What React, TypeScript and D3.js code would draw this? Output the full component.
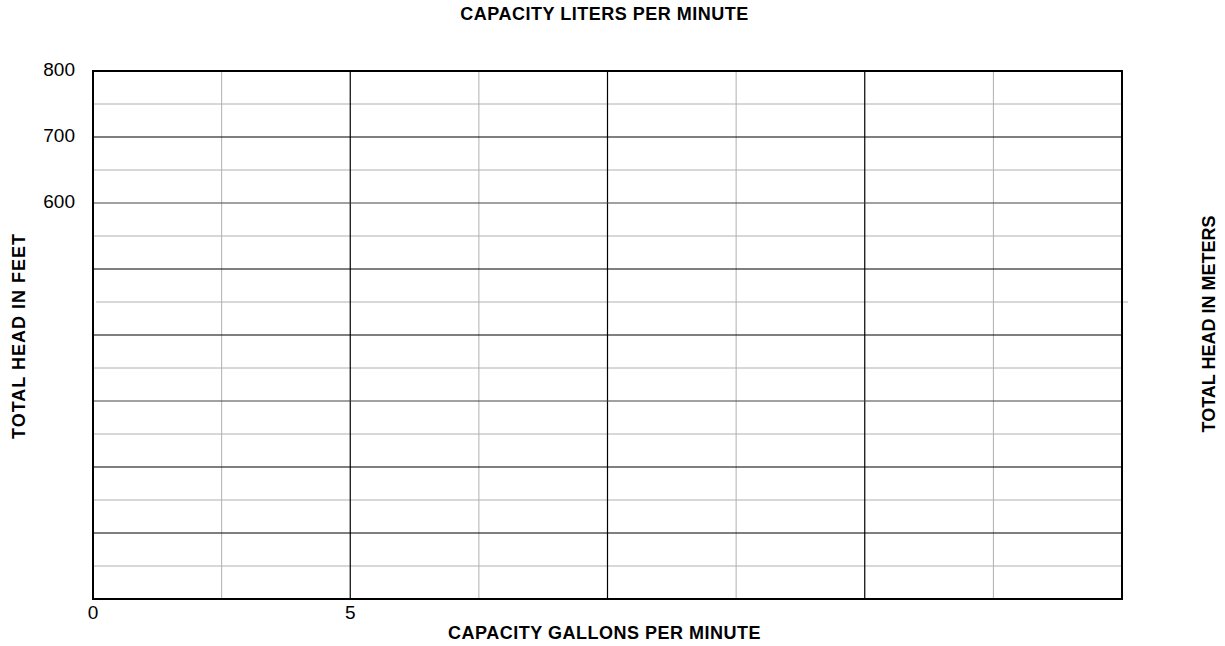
import React, { useEffect, useRef } from 'react';
import * as d3 from 'd3';

const width = 1225,
      height = 646;

// axis domains and grid steps
const xDomain = [0, 20];
const yDomain = [0, 800];
const xMajor = [0, 5, 10, 15, 20];
const xMinor = [2.5, 7.5, 12.5, 17.5];
const yMajor = [0, 100, 200, 300, 400, 500, 600, 700, 800];
const yMinor = [50, 150, 250, 350, 450, 550, 650, 750];

// only these tick labels are printed on the sheet
const xLabels = [0, 5];
const yLabels = [600, 700, 800];

const titleTop = 'CAPACITY LITERS PER MINUTE';
const titleBottom = 'CAPACITY GALLONS PER MINUTE';
const titleLeft = 'TOTAL HEAD IN FEET';
const titleRight = 'TOTAL HEAD IN METERS';

const margin = { top: 71, right: 103, bottom: 47, left: 93 };
const font = 'Liberation Sans, Arial, sans-serif';

const App = () => {
    const ref = useRef<SVGSVGElement>(null);

    useEffect(() => {
        const svg = d3.select(ref.current);
        svg.selectAll('*').remove();

        const x = d3.scaleLinear().domain(xDomain).range([margin.left, width - margin.right]);
        const y = d3.scaleLinear().domain(yDomain).range([height - margin.bottom, margin.top]);

        const g = svg.append('g');

        // minor grid
        g.selectAll('.vminor').data(xMinor).enter().append('line')
            .attr('x1', d => x(d)).attr('x2', d => x(d))
            .attr('y1', y(0)).attr('y2', y(800))
            .attr('stroke', '#b0b0b0').attr('stroke-width', 1);

        g.selectAll('.hminor').data(yMinor).enter().append('line')
            .attr('x1', d => d === 450 ? x(0) + 3 : x(0))
            .attr('x2', d => d === 450 ? x(20) + 6 : x(20))
            .attr('y1', d => y(d)).attr('y2', d => y(d))
            .attr('stroke', '#b0b0b0').attr('stroke-width', 1);

        // major grid
        g.selectAll('.vmajor').data(xMajor).enter().append('line')
            .attr('x1', d => x(d)).attr('x2', d => x(d))
            .attr('y1', y(0)).attr('y2', y(800))
            .attr('stroke', '#000').attr('stroke-width', 1.2);

        g.selectAll('.hmajor').data(yMajor).enter().append('line')
            .attr('x1', x(0)).attr('x2', x(20))
            .attr('y1', d => y(d)).attr('y2', d => y(d))
            .attr('stroke', d => d === 600 || d === 300 ? '#444' : '#000')
            .attr('stroke-width', 1.2);

        // frame
        g.append('rect')
            .attr('x', x(0)).attr('y', y(800))
            .attr('width', x(20) - x(0)).attr('height', y(0) - y(800))
            .attr('fill', 'none').attr('stroke', '#000').attr('stroke-width', 2);

        // tick labels
        g.selectAll('.ylab').data(yLabels).enter().append('text')
            .attr('x', x(0) - 18).attr('y', d => y(d) + 5)
            .attr('text-anchor', 'end')
            .attr('font-family', font)
            .attr('font-size', 19)
            .text(d => d);

        g.selectAll('.xlab').data(xLabels).enter().append('text')
            .attr('x', d => x(d)).attr('y', y(0) + 20)
            .attr('text-anchor', 'middle')
            .attr('font-family', font)
            .attr('font-size', 19)
            .text(d => d);

        const bold = (sel: any, spacing = 0.5) => sel
            .attr('font-family', font)
            .attr('font-weight', 'bold')
            .attr('font-size', 18)
            .attr('letter-spacing', spacing)
            .attr('text-anchor', 'middle');

        const cx = (x(0) + x(20)) / 2 - 3;

        bold(g.append('text')).attr('x', cx).attr('y', 20).text(titleTop);
        bold(g.append('text')).attr('x', cx).attr('y', 639).text(titleBottom);
        bold(g.append('text'), 1)
            .attr('transform', `translate(25,336) rotate(-90)`)
            .text(titleLeft);
        bold(g.append('text'), 0)
            .attr('transform', `translate(1215,324) rotate(-90)`)
            .text(titleRight);
    }, []);

    return (
        <svg
            ref={ref}
            width={width}
            height={height}
            style={{ position: 'absolute', left: 0, top: 0, background: '#fff' }}
        />
    );
};

export default App;
